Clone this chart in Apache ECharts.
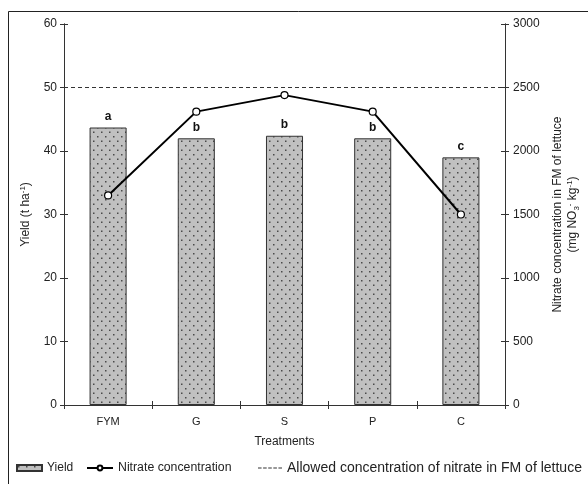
<!DOCTYPE html>
<html>
<head>
<meta charset="utf-8">
<script src="https://cdn.jsdelivr.net/npm/echarts@6/dist/echarts.min.js"></script>
<style>
html,body{margin:0;padding:0;background:#fff;}
#chart{width:588px;height:484px;}
</style>
</head>
<body>
<div id="chart"></div>
<script>
var categories = ['FYM', 'G', 'S', 'P', 'C'];
var yieldValues = [43.7, 42.0, 42.4, 42.0, 39.0];
var yieldLetters = ['a', 'b', 'b', 'b', 'c'];
var nitrateValues = [1650, 2310, 2440, 2310, 1500];
var allowedNitrate = 2500;
var leftTicks = [0, 60, 10];
var rightTicks = [0, 3000, 500];
var seriesNames = ['Yield', 'Nitrate concentration', 'Allowed concentration of nitrate in FM of lettuce'];

var FONT = "'Liberation Sans', Arial, sans-serif";

// dotted grey pattern for bars
var pc = document.createElement('canvas');
pc.width = 8; pc.height = 9;
var ctx = pc.getContext('2d');
ctx.fillStyle = '#c0c0c0';
ctx.fillRect(0, 0, 8, 9);
ctx.fillStyle = '#4a4a4a';
ctx.fillRect(1, 1, 1.5, 1.5);
ctx.fillRect(5, 5.5, 1.5, 1.5);

var chart = echarts.init(document.getElementById('chart'), null, {renderer: 'canvas'});

var sup = {fontSize: 8, verticalAlign: 'top', fontFamily: FONT, color: '#222', padding: [0, 0, 5, 0]};
var sub = {fontSize: 8, verticalAlign: 'bottom', fontFamily: FONT, color: '#222', padding: [4, 0, 0, 0]};
var base = {fontSize: 12, fontFamily: FONT, color: '#222'};
var tickStyle = {color: '#333', width: 1};
var dashIcon = 'path://M0,0H3.5V1H0Z M5,0H8.5V1H5Z M10,0H13.5V1H10Z M15,0H18.5V1H15Z M20,0H23.5V1H20Z';

var option = {
  animation: false,
  backgroundColor: '#fff',
  textStyle: {fontFamily: FONT},
  grid: {left: 64, right: 83, top: 24, bottom: 79, containLabel: false, outerBoundsMode: 'none'},
  legend: [{
    left: 16, top: 462, padding: 0, itemWidth: 25, itemHeight: 6,
    textStyle: {fontSize: 12, fontFamily: FONT, color: '#222'},
    data: [{name: seriesNames[0], icon: 'rect'}]
  }, {
    left: 86, top: 462, padding: 0, itemWidth: 26, itemHeight: 6,
    textStyle: {fontSize: 12.3, fontFamily: FONT, color: '#222'},
    data: [seriesNames[1]]
  }, {
    left: 258, top: 461, padding: 0, itemWidth: 24, itemHeight: 1.2,
    textStyle: {fontSize: 14, fontFamily: FONT, color: '#222'},
    data: [{name: seriesNames[2], icon: dashIcon}]
  }],
  xAxis: [{
    type: 'category', data: categories, position: 'bottom',
    name: 'Treatments', nameLocation: 'middle', nameGap: 31,
    nameTextStyle: {fontSize: 12, fontFamily: FONT, color: '#222'},
    axisLine: {lineStyle: {color: '#333', width: 1}},
    axisTick: {show: true, length: 4, lineStyle: tickStyle},
    axisLabel: {fontSize: 11, fontFamily: FONT, color: '#222', margin: 11}
  }, {
    type: 'category', data: categories, position: 'bottom',
    axisLine: {show: true, lineStyle: {color: '#333', width: 1}},
    axisTick: {show: true, inside: true, length: 4, lineStyle: tickStyle},
    axisLabel: {show: false}
  }],
  yAxis: [{
    type: 'value', min: leftTicks[0], max: leftTicks[1], interval: leftTicks[2], position: 'left',
    name: '{b|Yield (t ha}{s|-1}{b|)}', nameLocation: 'middle', nameGap: 32,
    nameTextStyle: {rich: {b: base, s: sup}},
    axisLine: {show: true, lineStyle: {color: '#333', width: 1}},
    axisTick: {show: true, length: 4, lineStyle: tickStyle},
    axisLabel: {fontSize: 12, fontFamily: FONT, color: '#222', margin: 7},
    splitLine: {show: false}
  }, {
    type: 'value', min: rightTicks[0], max: rightTicks[1], interval: rightTicks[2], position: 'right',
    name: '{b|Nitrate concentration in FM of lettuce}\n{b|(mg NO}{d|3}{s|-}{b| kg}{s|-1}{b|)}',
    nameLocation: 'middle', nameGap: 36,
    nameTextStyle: {rich: {b: base, s: sup, d: sub}, lineHeight: 15, align: 'center'},
    axisLine: {show: true, lineStyle: {color: '#333', width: 1}},
    axisTick: {show: true, length: 4, lineStyle: tickStyle},
    axisLabel: {fontSize: 12, fontFamily: FONT, color: '#222', margin: 8,
      formatter: function (v) { return String(v); }},
    splitLine: {show: false}
  }, {
    type: 'value', min: leftTicks[0], max: leftTicks[1], interval: leftTicks[2], position: 'left',
    axisLine: {show: true, lineStyle: {color: '#333', width: 1}},
    axisTick: {show: true, inside: true, length: 4, lineStyle: tickStyle},
    axisLabel: {show: false}, splitLine: {show: false}
  }, {
    type: 'value', min: rightTicks[0], max: rightTicks[1], interval: rightTicks[2], position: 'right',
    axisLine: {show: true, lineStyle: {color: '#333', width: 1}},
    axisTick: {show: true, inside: true, length: 4, lineStyle: tickStyle},
    axisLabel: {show: false}, splitLine: {show: false}
  }],
  series: [{
    name: seriesNames[0], type: 'bar', xAxisIndex: 0, yAxisIndex: 0,
    data: yieldValues, barCategoryGap: '58%',
    itemStyle: {color: {image: pc, repeat: 'repeat'}, borderColor: '#333', borderWidth: 1},
    label: {
      show: true, position: 'top', distance: 5,
      fontSize: 12, fontWeight: 'bold', fontFamily: FONT, color: '#111',
      formatter: function (p) { return yieldLetters[p.dataIndex]; }
    },
    z: 2
  }, {
    name: seriesNames[1], type: 'line', xAxisIndex: 0, yAxisIndex: 1,
    data: nitrateValues,
    symbol: 'circle', symbolSize: 7,
    itemStyle: {color: '#fff', borderColor: '#000', borderWidth: 1.2},
    lineStyle: {color: '#000', width: 2},
    z: 4
  }, {
    name: seriesNames[2], type: 'line', xAxisIndex: 0, yAxisIndex: 1,
    data: [], symbol: 'none', showSymbol: false,
    itemStyle: {color: '#333'},
    lineStyle: {color: '#333', width: 1, type: [4, 3]},
    markLine: {
      silent: true, symbol: ['none', 'none'], label: {show: false},
      lineStyle: {color: '#333', width: 1, type: [4, 3]},
      data: [{yAxis: allowedNitrate}]
    },
    z: 3
  }],
  graphic: [{
    type: 'rect', silent: true, z: 100,
    shape: {x: 8.5, y: 11.5, width: 600, height: 500},
    style: {fill: 'none', stroke: '#222', lineWidth: 1}
  }]
};
chart.setOption(option);
</script>
</body>
</html>
